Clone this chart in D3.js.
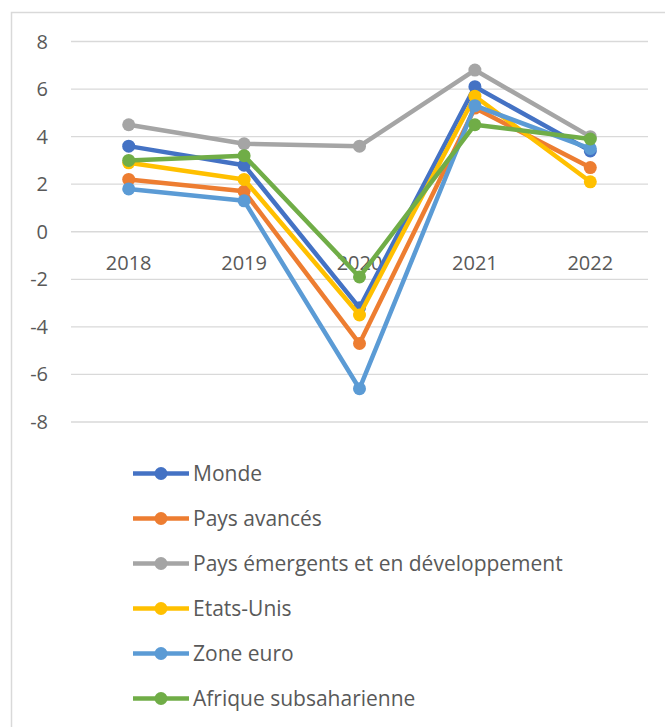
<!DOCTYPE html>
<html>
<head>
<meta charset="utf-8">
<script src="https://d3js.org/d3.v7.min.js"></script>
<style>
  body { margin: 0; background: #fff; }
  svg text { font-family: "Open Sans", Lato, sans-serif; fill: #595959; }
</style>
</head>
<body>
<svg width="665" height="727"></svg>
<script>
// data
var years = ["2018", "2019", "2020", "2021", "2022"];
var yTicks = [-8, -6, -4, -2, 0, 2, 4, 6, 8];
var names = ["Monde", "Pays avancés", "Pays émergents et en développement", "Etats-Unis", "Zone euro", "Afrique subsaharienne"];
var colors = ["#4472c4", "#ed7d31", "#a5a5a5", "#ffc000", "#5b9bd5", "#70ad47"];
var monde = [3.6, 2.8, -3.2, 6.1, 3.4];
var avances = [2.2, 1.7, -4.7, 5.2, 2.7];
var emergents = [4.5, 3.7, 3.6, 6.8, 4.0];
var etatsUnis = [2.9, 2.2, -3.5, 5.7, 2.1];
var zoneEuro = [1.8, 1.3, -6.6, 5.3, 3.5];
var afrique = [3.0, 3.2, -1.9, 4.5, 3.9];
var series = [monde, avances, emergents, etatsUnis, zoneEuro, afrique];

var svg = d3.select("svg");

// chart border
svg.append("rect")
  .attr("x", 11.5).attr("y", 12.5)
  .attr("width", 700).attr("height", 760)
  .attr("fill", "none").attr("stroke", "#d9d9d9").attr("stroke-width", 1.5);

var x = d3.scaleBand().domain(years).range([71, 648]);
var y = d3.scaleLinear().domain([-8, 8]).range([422, 41.5]);

// gridlines
svg.append("g")
  .selectAll("line")
  .data(yTicks)
  .enter().append("line")
  .attr("x1", 71).attr("x2", 648)
  .attr("y1", function(d) { return y(d); })
  .attr("y2", function(d) { return y(d); })
  .attr("stroke", "#d9d9d9").attr("stroke-width", 1.3);

// y labels
svg.append("g")
  .selectAll("text")
  .data(yTicks)
  .enter().append("text")
  .attr("x", 48)
  .attr("y", function(d) { return y(d); })
  .attr("dy", "0.35em")
  .attr("text-anchor", "end")
  .style("font-size", "20px")
  .text(function(d) { return d; });

// category labels (sit just under the zero line)
svg.append("g")
  .selectAll("text")
  .data(years)
  .enter().append("text")
  .attr("x", function(d) { return x(d) + x.bandwidth() / 2; })
  .attr("y", y(0) + 38.5)
  .attr("text-anchor", "middle")
  .style("font-size", "20px")
  .text(function(d) { return d; });

var line = d3.line()
  .x(function(d, i) { return x(years[i]) + x.bandwidth() / 2; })
  .y(function(d) { return y(d); });

series.forEach(function(s, k) {
  var g = svg.append("g");
  g.append("path")
    .attr("d", line(s))
    .attr("fill", "none")
    .attr("stroke", colors[k])
    .attr("stroke-width", 4.5)
    .attr("stroke-linejoin", "round");
  g.selectAll("circle")
    .data(s)
    .enter().append("circle")
    .attr("cx", function(d, i) { return x(years[i]) + x.bandwidth() / 2; })
    .attr("cy", function(d) { return y(d); })
    .attr("r", 6.5)
    .attr("fill", colors[k]);
});

// legend
var legend = svg.append("g")
  .selectAll("g")
  .data(names)
  .enter().append("g")
  .attr("transform", function(d, i) { return "translate(133," + (473.5 + i * 45) + ")"; });
legend.append("line")
  .attr("x1", 0).attr("x2", 56)
  .attr("stroke", function(d, i) { return colors[i]; })
  .attr("stroke-width", 4.5);
legend.append("circle")
  .attr("cx", 28).attr("r", 6.5)
  .attr("fill", function(d, i) { return colors[i]; });
legend.append("text")
  .attr("x", 60)
  .attr("dy", "0.35em")
  .style("font-size", "21px")
  .text(function(d) { return d; });
</script>
</body>
</html>
